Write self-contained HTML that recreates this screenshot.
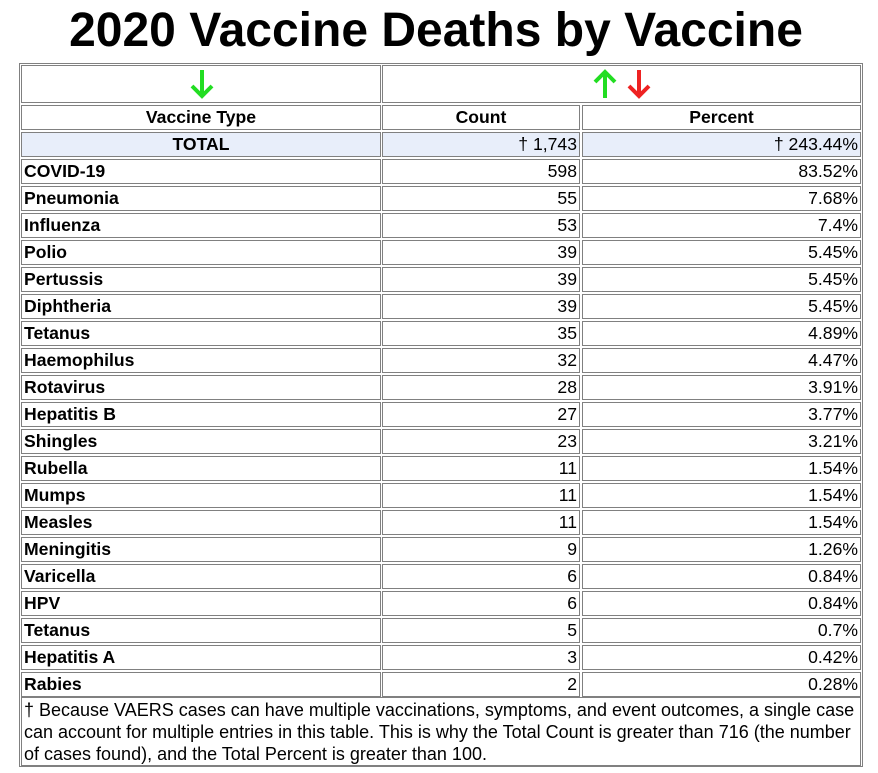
<!DOCTYPE html><html><head><style>
body{margin:0;width:878px;height:773px;background:#fff;position:relative;font-family:"Liberation Sans",Arial,sans-serif;overflow:hidden}
.t{position:absolute;left:0;width:872px;top:3px;text-align:center;font-weight:bold;font-size:48px;line-height:56px;color:#000}
.o{position:absolute;left:19px;top:63px;width:842px;height:702px;border:1px solid #808080}
.c{position:absolute;box-sizing:border-box;border:1px solid #808080;font-size:17.6px;line-height:22px;color:#000;padding:0 2px;white-space:nowrap}
.b{font-weight:bold}.r{text-align:right}.m{text-align:center}.g{background:#e8eefa}
</style></head><body>
<div class="t">2020 Vaccine Deaths by Vaccine</div>
<div class="o"></div>
<div class="c" style="left:21px;top:65px;width:360px;height:38px"><svg width="356" height="36"><g stroke="#22dd22" stroke-width="4" fill="none"><path d="M178 4V30M168 20L178 30L188 20"/></g></svg></div>
<div class="c" style="left:382px;top:65px;width:479px;height:38px"><svg width="475" height="36"><g stroke="#22dd22" stroke-width="4" fill="none"><path d="M220 32V6M210 16L220 6L230 16"/></g><g stroke="#ee2222" stroke-width="4" fill="none"><path d="M254 4V30M244 20L254 30L264 20"/></g></svg></div>
<div class="c b m" style="left:21px;top:105px;width:360px;height:25px">Vaccine Type</div>
<div class="c b m" style="left:382px;top:105px;width:198px;height:25px">Count</div>
<div class="c b m" style="left:582px;top:105px;width:279px;height:25px">Percent</div>
<div class="c b m g" style="left:21px;top:132px;width:360px;height:25px">TOTAL</div>
<div class="c r g" style="left:382px;top:132px;width:198px;height:25px">† 1,743</div>
<div class="c r g" style="left:582px;top:132px;width:279px;height:25px">† 243.44%</div>
<div id="rows"></div>
<div class="c" style="left:21px;top:697px;width:840px;height:69px;line-height:22px;padding:1px 2px;font-size:18px">† Because VAERS cases can have multiple vaccinations, symptoms, and event outcomes, a single case<br>can account for multiple entries in this table. This is why the Total Count is greater than 716 (the number<br>of cases found), and the Total Percent is greater than 100.</div>
<script>
var d=[["COVID-19",598,"83.52%"],["Pneumonia",55,"7.68%"],["Influenza",53,"7.4%"],["Polio",39,"5.45%"],["Pertussis",39,"5.45%"],["Diphtheria",39,"5.45%"],["Tetanus",35,"4.89%"],["Haemophilus",32,"4.47%"],["Rotavirus",28,"3.91%"],["Hepatitis B",27,"3.77%"],["Shingles",23,"3.21%"],["Rubella",11,"1.54%"],["Mumps",11,"1.54%"],["Measles",11,"1.54%"],["Meningitis",9,"1.26%"],["Varicella",6,"0.84%"],["HPV",6,"0.84%"],["Tetanus",5,"0.7%"],["Hepatitis A",3,"0.42%"],["Rabies",2,"0.28%"]];
var h="";d.forEach(function(r,i){var y=159+i*27;
h+='<div class="c b" style="left:21px;top:'+y+'px;width:360px;height:25px">'+r[0]+'</div>';
h+='<div class="c r" style="left:382px;top:'+y+'px;width:198px;height:25px">'+r[1]+'</div>';
h+='<div class="c r" style="left:582px;top:'+y+'px;width:279px;height:25px">'+r[2]+'</div>';});
document.getElementById("rows").innerHTML=h;
</script>
</body></html>
